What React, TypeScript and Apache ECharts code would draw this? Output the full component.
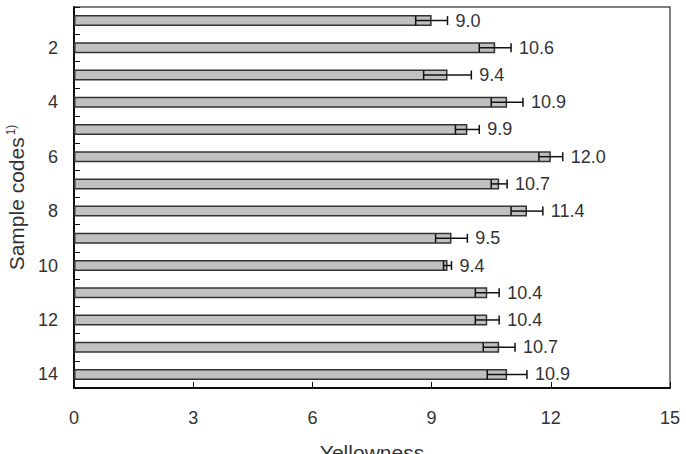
import React, { useEffect, useRef } from "react";
import * as echarts from "echarts";

const categories = ["1", "2", "3", "4", "5", "6", "7", "8", "9", "10", "11", "12", "13", "14"];
const values = [9.0, 10.6, 9.4, 10.9, 9.9, 12.0, 10.7, 11.4, 9.5, 9.4, 10.4, 10.4, 10.7, 10.9];
const errors = [0.4, 0.4, 0.6, 0.4, 0.3, 0.3, 0.2, 0.4, 0.4, 0.1, 0.3, 0.3, 0.4, 0.5];
const xTicks = { min: 0, max: 15, interval: 3 };

const FONT = "'Liberation Sans', Arial, sans-serif";

export default function App() {
  const ref = useRef<HTMLDivElement>(null);
  useEffect(() => {
    document.body.style.margin = "0";
    const chart = echarts.init(ref.current!, null, { renderer: "svg" });
    const errData = values.map((v, i) => [v, i, errors[i]]);
    chart.setOption({
      animation: false,
      backgroundColor: "#fff",
      textStyle: { fontFamily: FONT },
      grid: {
        left: 74,
        right: 16,
        top: 7,
        bottom: 66,
        containLabel: false,
        outerBoundsMode: "none",
        show: true,
        borderColor: "#555",
        borderWidth: 1.5,
        backgroundColor: "transparent",
      },
      xAxis: {
        type: "value",
        min: xTicks.min,
        max: xTicks.max,
        interval: xTicks.interval,
        name: "Yellowness",
        nameLocation: "middle",
        nameGap: 54,
        nameTextStyle: { fontSize: 21, color: "#333", fontFamily: FONT },
        axisLine: { show: true, lineStyle: { color: "#111", width: 2 } },
        axisTick: { show: true, inside: true, length: 6, lineStyle: { color: "#111", width: 1 } },
        axisLabel: { fontSize: 18, color: "#333", margin: 21, fontFamily: FONT },
        splitLine: { show: false },
      },
      yAxis: {
        type: "category",
        data: categories,
        inverse: true,
        name: "{a|Sample codes}{s|1)}",
        nameLocation: "middle",
        nameGap: 47,
        nameTextStyle: {
          fontFamily: FONT,
          color: "#333",
          rich: {
            a: { fontSize: 21, color: "#333", fontFamily: FONT, lineHeight: 22 },
            s: { fontSize: 12, color: "#333", fontFamily: FONT, verticalAlign: "top", lineHeight: 12, padding: [0, 0, 0, 2] },
          },
        },
        axisLine: { show: true, lineStyle: { color: "#111", width: 2 } },
        axisTick: { show: true, inside: true, length: 6, interval: 0, lineStyle: { color: "#111", width: 1 } },
        axisLabel: {
          fontSize: 18,
          color: "#333",
          margin: 16,
          fontFamily: FONT,
          interval: (i: number) => i % 2 === 1,
        },
        splitLine: { show: false },
      },
      series: [
        {
          type: "bar",
          data: values,
          barWidth: 11,
          itemStyle: { color: "#c0c0c0", borderColor: "#333", borderWidth: 1.5 },
        },
        {
          type: "custom",
          data: errData,
          encode: { x: 0, y: 1 },
          z: 5,
          renderItem: (params: any, api: any) => {
            const v = api.value(0);
            const idx = api.value(1);
            const e = api.value(2);
            const lo = api.coord([v - e, idx]);
            const hi = api.coord([v + e, idx]);
            const y = lo[1];
            const cap = 4.5;
            const style = { stroke: "#111", lineWidth: 1.5 };
            return {
              type: "group",
              children: [
                { type: "line", shape: { x1: lo[0], y1: y, x2: hi[0], y2: y }, style },
                { type: "line", shape: { x1: lo[0], y1: y - cap, x2: lo[0], y2: y + cap }, style },
                { type: "line", shape: { x1: hi[0], y1: y - cap, x2: hi[0], y2: y + cap }, style },
                {
                  type: "text",
                  x: hi[0] + 8,
                  y: y,
                  style: {
                    text: v.toFixed(1),
                    fontSize: 18,
                    fontFamily: FONT,
                    fill: "#333",
                    textAlign: "left",
                    textVerticalAlign: "middle",
                  },
                },
              ],
            };
          },
        },
      ],
    });
    return () => chart.dispose();
  }, []);
  return <div ref={ref} style={{ width: 686, height: 454 }} />;
}
